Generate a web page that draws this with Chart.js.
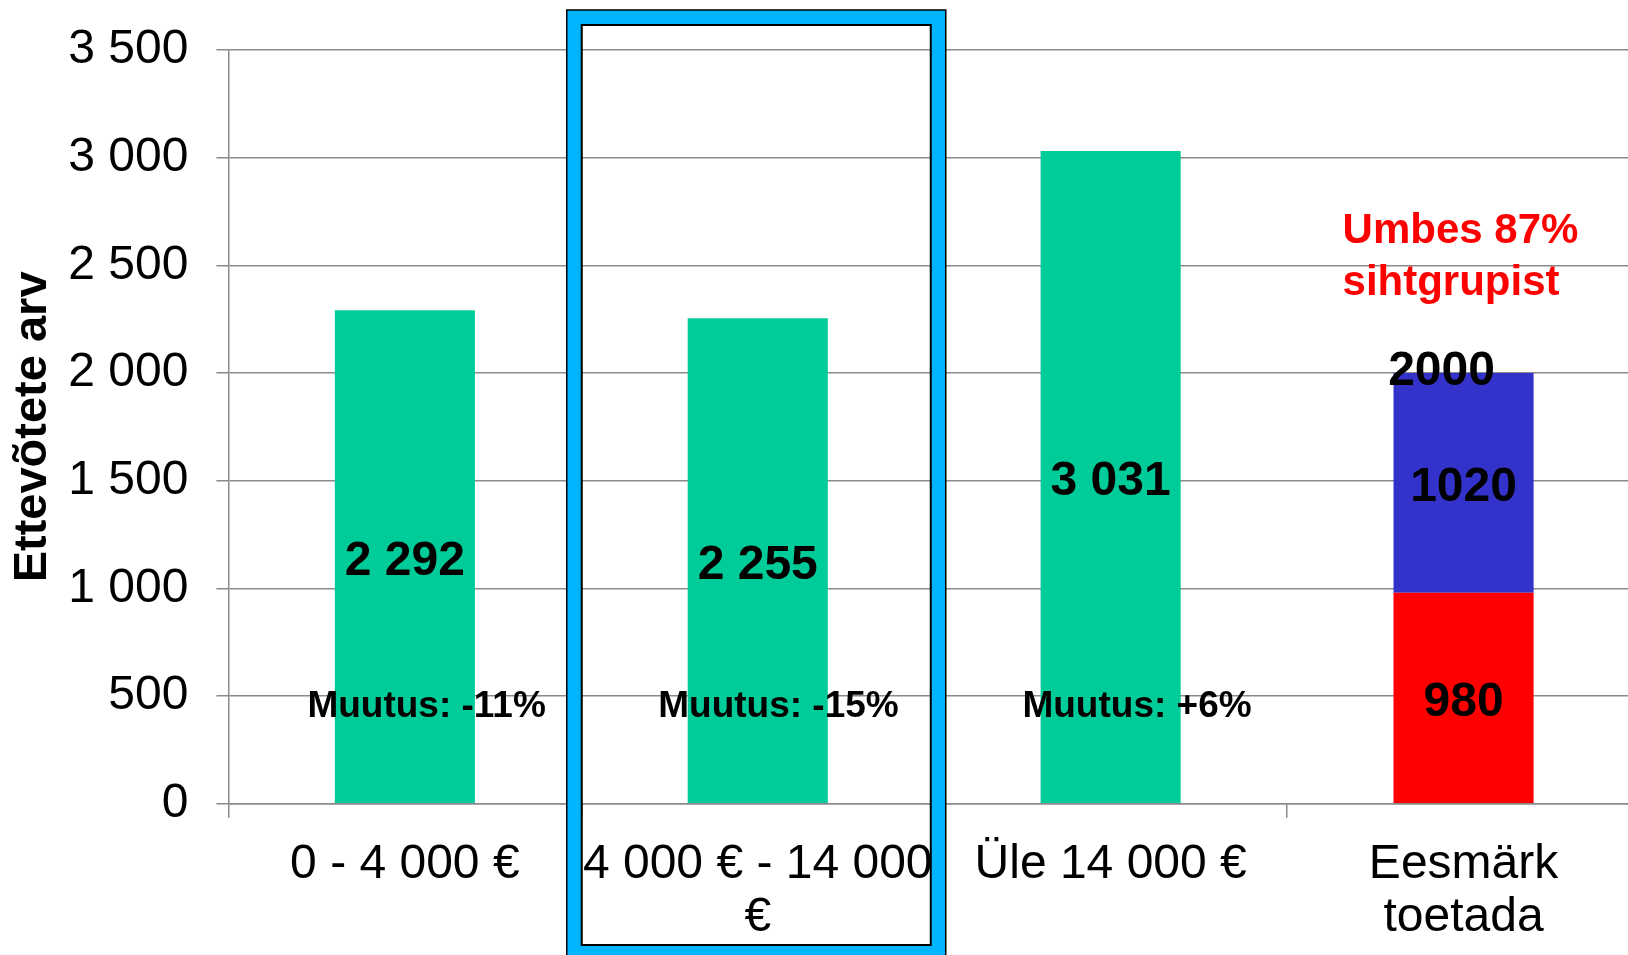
<!DOCTYPE html>
<html>
<head>
<meta charset="utf-8">
<script src="https://cdn.jsdelivr.net/npm/chart.js@4.4.0/dist/chart.umd.min.js"></script>
<style>
  html, body { margin: 0; padding: 0; background: #fff; overflow: hidden; }
  canvas { display: block; }
</style>
</head>
<body>
<canvas id="firmsChart" width="1640" height="955"></canvas>
<script>
const categories = ["0 - 4 000 €", ["4 000 € - 14 000", "€"], "Üle 14 000 €", ["Eesmärk", "toetada"]];
const enterprises = [2292, 2255, 3031, null];
const targetSupported = [null, null, null, 980];
const targetRemaining = [null, null, null, 1020];
const targetTotal = 2000;
const changeLabels = ["Muutus: -11%", "Muutus: -15%", "Muutus: +6%", null];
const changeLabelLevel = 460;
const noteLines = ["Umbes 87%", "sihtgrupist"];
const yTicks = [0, 500, 1000, 1500, 2000, 2500, 3000, 3500];

const FONT = "'Liberation Sans', Arial, sans-serif";
const GRID = "#8a8a8a";

function spaced(n) {
  return String(n).replace(/\B(?=(\d{3})+(?!\d))/g, " ");
}

const labelsPlugin = {
  id: "labels",
  afterDatasetsDraw(chart) {
    const ctx = chart.ctx;
    const x = chart.scales.x;
    const y = chart.scales.y;
    ctx.save();
    ctx.fillStyle = "#000";
    ctx.textAlign = "center";
    ctx.textBaseline = "middle";
    ctx.font = "bold 48px " + FONT;
    chart.data.datasets.forEach((ds, i) => {
      const meta = chart.getDatasetMeta(i);
      meta.data.forEach((bar, j) => {
        const v = ds.data[j];
        if (v == null) return;
        const text = i === 0 ? spaced(v) : String(v);
        ctx.fillText(text, bar.x, (bar.y + bar.base) / 2 + 5);
      });
    });

    // total on top of the target bar
    const cx4 = x.getPixelForValue(3);
    ctx.fillText(String(targetTotal), cx4 - 22, y.getPixelForValue(targetTotal) - 1);

    // change labels
    ctx.font = "bold 37px " + FONT;
    ctx.textAlign = "right";
    changeLabels.forEach((t, j) => {
      if (!t) return;
      ctx.fillText(t, x.getPixelForValue(j) + 141, y.getPixelForValue(changeLabelLevel) + 2);
    });

    // red note
    ctx.font = "bold 42px " + FONT;
    ctx.fillStyle = "#ff0000";
    ctx.textAlign = "left";
    const top = y.getPixelForValue(targetTotal);
    noteLines.forEach((t, k) => {
      ctx.fillText(t, cx4 - 121, top - 142 + k * 52);
    });
    ctx.restore();
  },
  afterDraw(chart) {
    // highlight frame round the second category
    const ctx = chart.ctx;
    const cx = chart.scales.x.getPixelForValue(1);
    const area = chart.chartArea;
    const oL = cx - 191, oR = cx + 188, oT = area.top - 40, oB = chart.height + 20;
    const iL = cx - 176, iR = cx + 173, iT = area.top - 25, iB = chart.height - 10;
    ctx.save();
    ctx.beginPath();
    ctx.rect(oL, oT, oR - oL, oB - oT);
    ctx.rect(iL, iT, iR - iL, iB - iT);
    ctx.fillStyle = "#00b4ff";
    ctx.fill("evenodd");
    ctx.strokeStyle = "#000";
    ctx.lineWidth = 1.5;
    ctx.strokeRect(oL, oT, oR - oL, oB - oT);
    ctx.lineWidth = 2;
    ctx.strokeRect(iL, iT, iR - iL, iB - iT);
    ctx.restore();
  },
};

const ctx = document.getElementById("firmsChart").getContext("2d");

const firmsChart = new Chart(ctx, {
  type: "bar",
  data: {
    labels: categories,
    datasets: [
      {
        label: "Ettevõtted",
        data: enterprises,
        backgroundColor: "#00cc99",
        categoryPercentage: 1,
        barPercentage: 0.397,
      },
      {
        label: "Toetatud",
        data: targetSupported,
        backgroundColor: "#ff0000",
        categoryPercentage: 1,
        barPercentage: 0.397,
      },
      {
        label: "Ülejäänud",
        data: targetRemaining,
        backgroundColor: "#3333cc",
        categoryPercentage: 1,
        barPercentage: 0.397,
      },
    ],
  },
  options: {
    responsive: false,
    animation: false,
    devicePixelRatio: 1,
    layout: { padding: { top: 50, left: 0, right: 0, bottom: 0 } },
    plugins: {
      legend: { display: false },
      tooltip: { enabled: false },
    },
    scales: {
      x: {
        stacked: true,
        grid: {
          offset: true,
          drawOnChartArea: false,
          tickLength: 14,
          color: GRID,
          lineWidth: 1.5,
        },
        border: { color: GRID, width: 1.5 },
        ticks: {
          color: "#000",
          font: { family: FONT, size: 48, lineHeight: 1.1 },
          padding: 21,
          maxRotation: 0,
          autoSkip: false,
        },
        afterFit(scale) {
          scale.height = 151.2;
        },
      },
      y: {
        stacked: true,
        min: yTicks[0],
        max: yTicks[yTicks.length - 1],
        afterBuildTicks(scale) {
          scale.ticks = yTicks.map((v) => ({ value: v }));
        },
        ticks: {
          color: "#000",
          font: { family: FONT, size: 48 },
          padding: 28,
          callback: (v) => spaced(v),
        },
        grid: { color: GRID, lineWidth: 1.5, tickLength: 12 },
        border: { color: GRID, width: 1.5 },
        title: {
          display: true,
          text: "Ettevõtete arv",
          color: "#000",
          font: { family: FONT, size: 47, weight: "bold" },
          padding: { top: 5, bottom: 0 },
        },
        afterFit(scale) {
          scale.width = 228.4;
          scale.paddingTop = 0;
          scale.paddingBottom = 0;
        },
      },
    },
  },
  plugins: [labelsPlugin],
});
</script>
</body>
</html>
